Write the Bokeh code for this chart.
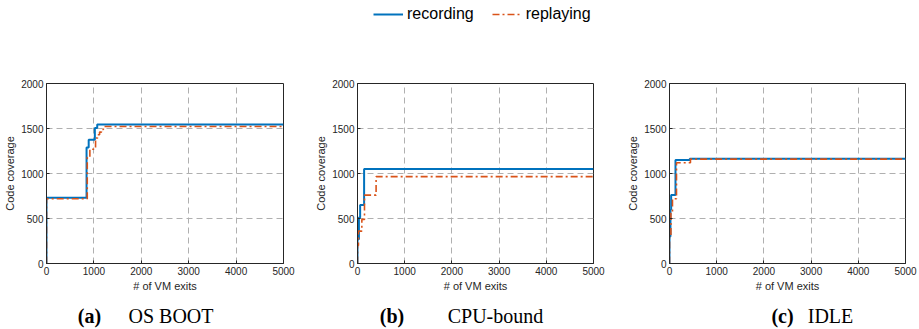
from bokeh.plotting import figure
from bokeh.layouts import row, column
from bokeh.models import FixedTicker, Label, Legend, LegendItem, Range1d
from bokeh.embed import file_html
from bokeh.resources import INLINE

# ---------------- data ----------------
x_ticks = [0, 1000, 2000, 3000, 4000, 5000]
y_ticks = [0, 500, 1000, 1500, 2000]
series_names = ["recording", "replaying"]

# (a) OS BOOT
boot_rec_x = [0, 0, 845, 890, 1020, 1070, 5000]
boot_rec_y = [0, 730, 1290, 1375, 1505, 1545, 1545]
boot_rep_x = [0, 0, 860, 915, 1035, 1080, 1120, 1160, 1200, 5000]
boot_rep_y = [0, 720, 1180, 1270, 1395, 1430, 1460, 1490, 1522, 1522]

# (b) CPU-bound
cpu_rec_x = [0, 0, 30, 56, 140, 5000]
cpu_rec_y = [0, 270, 510, 650, 1050, 1050]
cpu_rep_x = [0, 0, 20, 92, 148, 394, 5000]
cpu_rep_y = [0, 200, 360, 490, 760, 965, 965]

# (c) IDLE
idle_rec_x = [0, 0, 20, 35, 127, 430, 5000]
idle_rec_y = [0, 300, 600, 760, 1150, 1165, 1165]
idle_rep_x = [0, 0, 30, 63, 148, 444, 5000]
idle_rep_y = [0, 300, 560, 720, 1120, 1160, 1160]

captions = [("(a)", "OS BOOT"), ("(b)", "CPU-bound"), ("(c)", "IDLE")]

# ---------------- style ----------------
BLUE = "#0072BD"
ORANGE = "#D95319"
AX = "#262626"
FONT = "Liberation Sans"
SERIF = "Liberation Serif"
REC_STYLE = dict(line_color=BLUE, line_width=2)
REP_STYLE = dict(line_color=ORANGE, line_width=1.6, line_dash="7 3 2 3")
NAN = float("nan")

# per-panel layout: width, left/right borders
panel_layout = [
    dict(w=306, left=46, right=23),
    dict(w=307, left=51, right=20),
    dict(w=306, left=56, right=14),
]
# caption centers (page px)
caption_pos = [(89, 170.5), (391.5, 495), (782, 830)]

data = [
    (boot_rec_x, boot_rec_y, boot_rep_x, boot_rep_y),
    (cpu_rec_x, cpu_rec_y, cpu_rep_x, cpu_rep_y),
    (idle_rec_x, idle_rec_y, idle_rep_x, idle_rep_y),
]


def blank(width, height):
    f = figure(width=width, height=height, output_backend="svg", toolbar_location=None, title=None,
               x_axis_type=None, y_axis_type=None, x_range=Range1d(0, width), y_range=Range1d(0, height),
               min_border=0, min_border_left=0, min_border_right=0, min_border_top=0, min_border_bottom=0)
    f.outline_line_color = None
    f.grid.visible = False
    f.background_fill_color = "white"
    f.border_fill_color = "white"
    return f


# ---- legend strip ----
leg_fig = blank(919, 40)
lr1 = leg_fig.line(x=[NAN], y=[NAN], **REC_STYLE)
lr2 = leg_fig.line(x=[NAN], y=[NAN], **REP_STYLE)
leg = Legend(items=[LegendItem(label=series_names[0], renderers=[lr1]),
                    LegendItem(label=series_names[1], renderers=[lr2])],
             location=(373, 17), orientation="horizontal")
leg.label_text_font = FONT
leg.label_text_font_size = "16px"
leg.label_text_color = "black"
leg.glyph_width = 30
leg.glyph_height = 16
leg.label_height = 16
leg.label_standoff = 4
leg.spacing = 18
leg.padding = 0
leg.margin = 0
leg.border_line_color = None
leg.background_fill_alpha = 0
leg_fig.add_layout(leg)

# ---- panels ----
figs = []
for (rx, ry, px, py), lay in zip(data, panel_layout):
    p = figure(width=lay["w"], height=260, output_backend="svg", toolbar_location=None, title=None,
               x_range=Range1d(x_ticks[0], x_ticks[-1]), y_range=Range1d(y_ticks[0], y_ticks[-1]),
               min_border_left=lay["left"], min_border_right=lay["right"],
               min_border_top=43, min_border_bottom=37)
    p.background_fill_color = "white"
    p.border_fill_color = "white"
    p.outline_line_color = AX
    p.outline_line_width = 1

    for ax in (p.xaxis[0], p.yaxis[0]):
        ax.axis_line_color = AX
        ax.major_tick_line_color = AX
        ax.major_tick_in = 3
        ax.major_tick_out = 0
        ax.minor_tick_line_color = None
        ax.major_label_text_font = FONT
        ax.major_label_text_font_size = "10px"
        ax.major_label_text_color = AX
        ax.axis_label_text_font = FONT
        ax.axis_label_text_font_size = "11px"
        ax.axis_label_text_font_style = "normal"
        ax.axis_label_text_color = AX
        ax.major_label_standoff = 3
        ax.axis_label_standoff = 2
    p.xaxis.ticker = FixedTicker(ticks=x_ticks)
    p.yaxis.ticker = FixedTicker(ticks=y_ticks)
    p.xaxis.axis_label = "# of VM exits"
    p.yaxis.axis_label = "Code coverage"

    for g in (p.xgrid[0], p.ygrid[0]):
        g.grid_line_color = "#b0b0b0"
        g.grid_line_dash = "6 4"
        g.grid_line_width = 1
    p.xgrid.ticker = FixedTicker(ticks=x_ticks)
    p.ygrid.ticker = FixedTicker(ticks=y_ticks)

    p.step(rx, ry, mode="after", **REC_STYLE)
    p.step(px, py, mode="after", **REP_STYLE)
    figs.append(p)

# ---- caption strip ----
cap_fig = blank(919, 29)
for (ca, cb), (xa, xb) in zip(captions, caption_pos):
    cap_fig.add_layout(Label(x=xa, y=14, x_units="screen", y_units="screen",
                             text=ca, text_font=SERIF, text_font_size="20px", text_font_style="bold",
                             text_align="center", text_baseline="middle", text_color="black"))
    cap_fig.add_layout(Label(x=xb, y=14, x_units="screen", y_units="screen",
                             text=cb, text_font=SERIF, text_font_size="20px",
                             text_align="center", text_baseline="middle", text_color="black"))

layout = column(leg_fig, row(*figs, spacing=0), cap_fig, spacing=0)
open("out.html", "w").write(file_html(layout, INLINE))
